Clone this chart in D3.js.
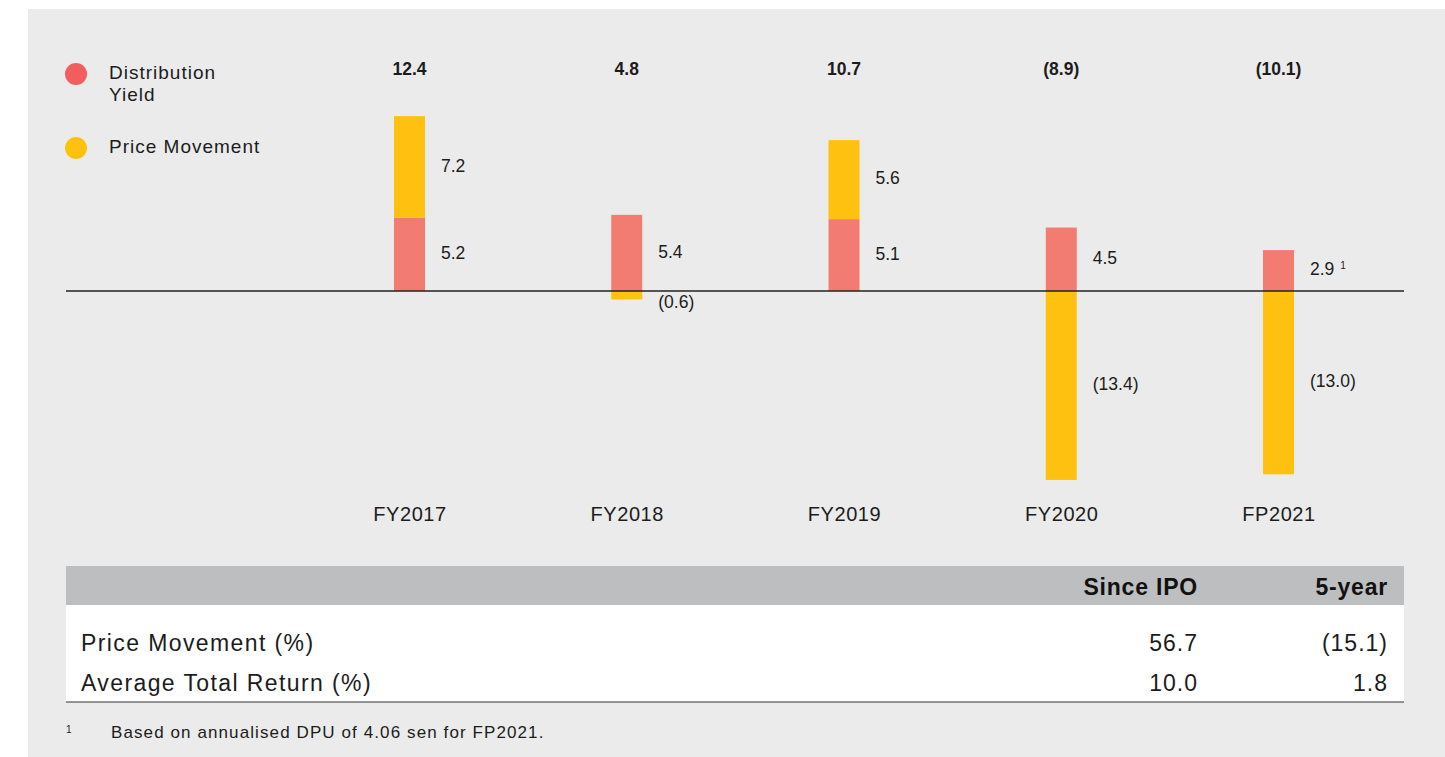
<!DOCTYPE html>
<html>
<head>
<meta charset="utf-8">
<script src="https://cdn.jsdelivr.net/npm/d3@7"></script>
<style>
  body { margin: 0; background: #fff; }
  svg { display: block; font-family: "Liberation Sans", Arial, sans-serif; }
</style>
</head>
<body>
<script>
// chart data
var periods = ["FY2017", "FY2018", "FY2019", "FY2020", "FP2021"];
var distYield = [5.2, 5.4, 5.1, 4.5, 2.9];
var priceMove = [7.2, -0.6, 5.6, -13.4, -13.0];
var totals = [12.4, 4.8, 10.7, -8.9, -10.1];
var footRef = ["", "", "", "", "1"];

// table data
var tableCols = ["Since IPO", "5-year"];
var tableRows = ["Price Movement (%)", "Average Total Return (%)"];
var tableVals = [[56.7, -15.1], [10.0, 1.8]];

var W = 1445, H = 757;
var red = "#f37c72", redDot = "#f25e5e", yellow = "#fec110", ink = "#1c1c1c";

function fmt(v) {
    var s = Math.abs(v).toFixed(1);
    return v < 0 ? "(" + s + ")" : s;
}

var svg = d3.select("body").append("svg")
    .attr("width", W)
    .attr("height", H);

svg.append("rect")
    .attr("x", 28).attr("y", 9)
    .attr("width", W - 28).attr("height", H - 9)
    .attr("fill", "#ebebeb");

// scales
var x = d3.scalePoint().domain(periods).range([409.5, 1278.5]);
var y = d3.scaleLinear().domain([-13.4, 12.4]).range([291 + 13.4 * 14.1, 291 - 12.4 * 14.1]);
var bw = 31;

var data = periods.map(function (p, i) {
    return { p: p, dy: distYield[i], pm: priceMove[i], total: totals[i], ref: footRef[i] };
});

// bars: distribution yield from 0, price movement stacked on top or below zero
var g = svg.append("g");

g.selectAll(".dy")
    .data(data)
    .enter().append("rect")
    .attr("x", (d) => x(d.p) - bw / 2)
    .attr("width", bw)
    .attr("y", (d) => y(d.dy))
    .attr("height", (d) => y(0) - y(d.dy))
    .attr("fill", red);

g.selectAll(".pm")
    .data(data)
    .enter().append("rect")
    .attr("x", (d) => x(d.p) - bw / 2)
    .attr("width", bw)
    .attr("y", (d) => d.pm > 0 ? y(d.dy + d.pm) : y(0))
    .attr("height", (d) => Math.abs(y(d.pm) - y(0)))
    .attr("fill", yellow);

// zero line
svg.append("line")
    .attr("x1", 66).attr("x2", 1404)
    .attr("y1", y(0)).attr("y2", y(0))
    .attr("stroke", "#222").attr("stroke-width", 1.3);

// segment labels
var lx = (d) => x(d.p) + bw / 2 + 16;

var dyLab = g.selectAll(".dyl")
    .data(data)
    .enter().append("text")
    .attr("x", lx)
    .attr("y", (d) => (y(d.dy) + y(0)) / 2)
    .attr("dominant-baseline", "middle")
    .attr("font-size", 17.5)
    .attr("fill", ink)
    .text((d) => fmt(d.dy));

dyLab.filter((d) => d.ref)
    .append("tspan")
    .attr("dx", 6).attr("dy", -5)
    .attr("font-size", 10)
    .text((d) => d.ref);

g.selectAll(".pml")
    .data(data)
    .enter().append("text")
    .attr("x", lx)
    .attr("y", (d) => {
        var a = d.pm > 0 ? y(d.dy) : y(0);
        var b = d.pm > 0 ? y(d.dy + d.pm) : y(d.pm);
        if (Math.abs(b - a) < 20) return b + 4;
        return (a + b) / 2;
    })
    .attr("dominant-baseline", "middle")
    .attr("font-size", 17.5)
    .attr("fill", ink)
    .text((d) => fmt(d.pm));

// totals
g.selectAll(".tot")
    .data(data)
    .enter().append("text")
    .attr("x", (d) => x(d.p))
    .attr("y", 70)
    .attr("text-anchor", "middle")
    .attr("dominant-baseline", "middle")
    .attr("font-size", 17.5)
    .attr("font-weight", "bold")
    .attr("fill", ink)
    .text((d) => fmt(d.total));

// x axis labels
var xAxis = d3.axisBottom(x).tickSize(0).tickPadding(0);
var ax = svg.append("g")
    .attr("transform", "translate(0,507)")
    .call(xAxis);
ax.select(".domain").remove();
ax.selectAll("text")
    .attr("font-size", 20)
    .attr("letter-spacing", 0.6)
    .attr("font-family", "Liberation Sans, Arial, sans-serif")
    .attr("fill", ink);

// legend
var legend = [
    { lines: ["Distribution", "Yield"], color: redDot, y: 74 },
    { lines: ["Price Movement"], color: yellow, y: 148 }
];
var lg = svg.selectAll(".leg")
    .data(legend)
    .enter().append("g");
lg.append("circle")
    .attr("cx", 76).attr("cy", (d) => d.y)
    .attr("r", 11)
    .attr("fill", (d) => d.color);
lg.each(function (d) {
    var t = d3.select(this).append("text")
        .attr("x", 109).attr("y", d.y)
        .attr("dominant-baseline", "middle")
        .attr("font-size", 19)
        .attr("letter-spacing", 1)
        .attr("fill", ink);
    d.lines.forEach((l, i) => {
        t.append("tspan").attr("x", 109).attr("dy", i ? 22 : 0).text(l);
    });
});

// table
var tx = 66, tw = 1404 - 66;
var colX = [1198, 1388];
svg.append("rect")
    .attr("x", tx).attr("y", 566)
    .attr("width", tw).attr("height", 39)
    .attr("fill", "#bdbebf");
svg.append("rect")
    .attr("x", tx).attr("y", 605)
    .attr("width", tw).attr("height", 97)
    .attr("fill", "#ffffff");
svg.append("line")
    .attr("x1", tx).attr("x2", tx + tw)
    .attr("y1", 702).attr("y2", 702)
    .attr("stroke", "#333").attr("stroke-width", 1.2);

svg.selectAll(".th")
    .data(tableCols)
    .enter().append("text")
    .attr("x", (d, i) => colX[i])
    .attr("y", 589)
    .attr("text-anchor", "end")
    .attr("dominant-baseline", "middle")
    .attr("font-size", 23)
    .attr("font-weight", "bold")
    .attr("letter-spacing", 0.8)
    .attr("fill", "#111")
    .text((d) => d);

var rowY = [645, 685];
tableRows.forEach((r, i) => {
    svg.append("text")
        .attr("x", 81).attr("y", rowY[i])
        .attr("dominant-baseline", "middle")
        .attr("font-size", 23)
        .attr("letter-spacing", 1.4)
        .attr("fill", ink)
        .text(r);
    svg.selectAll(".tv" + i)
        .data(tableVals[i])
        .enter().append("text")
        .attr("x", (d, j) => colX[j])
        .attr("y", rowY[i])
        .attr("text-anchor", "end")
        .attr("dominant-baseline", "middle")
        .attr("font-size", 23)
        .attr("letter-spacing", 1)
        .attr("fill", ink)
        .text((d) => fmt(d));
});

// footnote
svg.append("text")
    .attr("x", 66).attr("y", 730)
    .attr("dominant-baseline", "middle")
    .attr("font-size", 10)
    .attr("fill", ink)
    .text("1");
svg.append("text")
    .attr("x", 111).attr("y", 734)
    .attr("dominant-baseline", "middle")
    .attr("font-size", 17)
    .attr("letter-spacing", 1.1)
    .attr("fill", ink)
    .text("Based on annualised DPU of 4.06 sen for FP2021.");
</script>
</body>
</html>
